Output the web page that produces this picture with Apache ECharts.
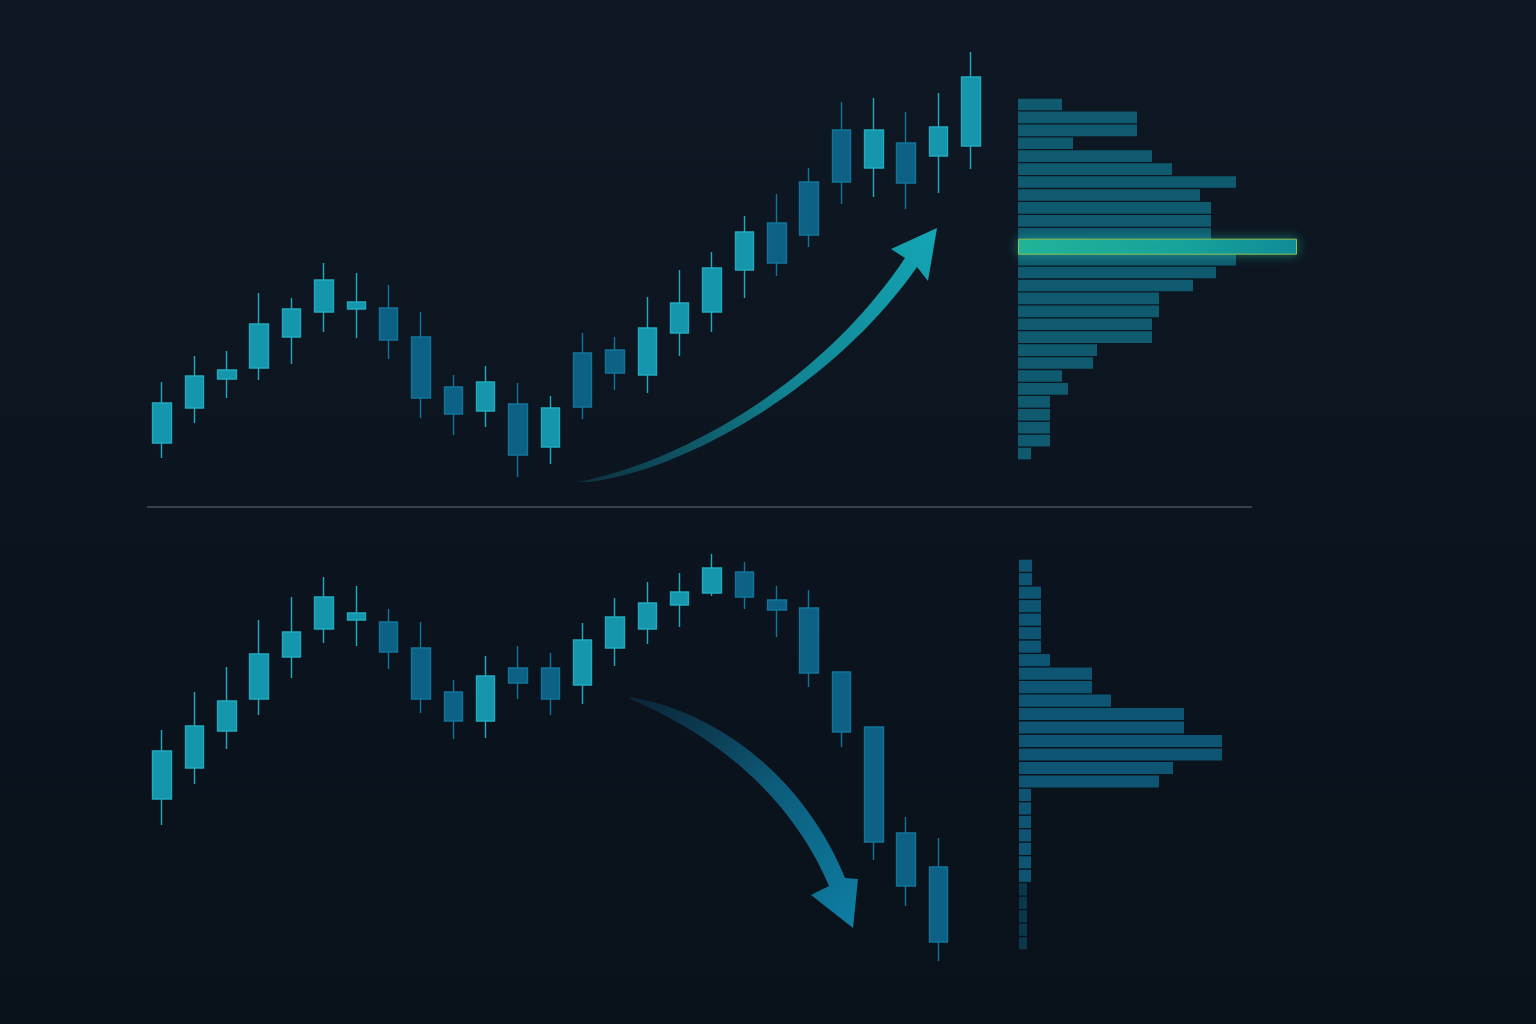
<!DOCTYPE html>
<html>
<head>
<meta charset="utf-8">
<script src="https://cdn.jsdelivr.net/npm/echarts@6/dist/echarts.min.js"></script>
<style>
html,body{margin:0;padding:0;background:#0c1520;}
#chart{width:1536px;height:1024px;}
</style>
</head>
<body>
<div id="chart"></div>
<script>
// Categories (sessions) shared by both panels
const sessions = Array.from({length: 26}, (_, i) => 'S' + (i + 1));

// Top panel candles: [open, close, low, high]
const topCandles = [
  [37,77,22,98],[72,104,57,124],[101,110,82,129],[112,156,100,187],[143,171,116,182],
  [168,200,148,217],[171,178,142,207],[172,140,121,195],[143,82,62,168],[93,66,45,105],
  [69,98,53,114],[76,25,3,97],[33,72,16,84],[127,73,61,147],[130,107,90,143],
  [105,152,87,183],[147,177,124,210],[168,212,148,228],[210,248,182,264],[257,217,204,286],
  [298,245,233,312],[350,298,276,378],[312,350,283,382],[337,297,271,368],[324,353,287,387],
  [334,403,311,428]
];

// Bottom panel candles: [open, close, low, high]
const bottomCandles = [
  [181,229,155,250],[212,254,196,288],[249,279,231,313],[281,326,265,360],[323,348,302,383],
  [351,383,337,403],[360,367,334,394],[358,328,311,371],[332,281,267,358],[288,259,241,300],
  [259,304,242,324],[312,297,281,334],[312,281,265,327],[295,340,276,357],[332,363,314,382],
  [351,377,336,398],[375,388,353,407],[387,412,384,426],[408,383,371,418],[380,370,343,394],
  [372,307,293,390],[308,248,233,308],[253,138,120,253],[147,94,74,163],[113,38,19,142]
];

// Volume profile rows (top row first)
const topProfile = [44,119,119,55,134,154,218,182,193,193,193,279,218,198,175,141,141,134,134,79,75,44,50,32,32,32,32,13];
const bottomProfile = [13,13,22,22,22,22,22,31,73,73,92,165,165,203,203,154,140,12,12,12,12,12,12,12,8,8,8,8,8];

const topLevels = topProfile.map((_, i) => 'T' + i);
const bottomLevels = bottomProfile.map((_, i) => 'B' + i);

const chart = echarts.init(document.getElementById('chart'));

const candleStyle = {
  color: '#1696ad',
  color0: '#0d6185',
  borderColor: '#20aabf',
  borderColor0: '#12749a',
  borderWidth: 1.4
};

const pocIndex = topProfile.indexOf(Math.max(...topProfile));
const pocData = topProfile.map((v, i) => i === pocIndex ? v : '-');

const bottomProfileData = bottomProfile.map((v, i) => i >= 24 ? {
  value: v, itemStyle: {opacity: 0.55}
} : v);

const hiddenCat = (data, gridIndex, inverse) => ({
  type: 'category', data: data, gridIndex: gridIndex, inverse: !!inverse,
  show: false, boundaryGap: true
});
const hiddenVal = (gridIndex, max) => ({
  type: 'value', gridIndex: gridIndex, min: 0, max: max, show: false
});

// Decorative arrow outlines built by sampling cubic curves
function cubic(p0, p1, p2, p3, n) {
  const pts = [];
  for (let k = 0; k <= n; k++) {
    const t = k / n, u = 1 - t;
    pts.push([
      u*u*u*p0[0] + 3*u*u*t*p1[0] + 3*u*t*t*p2[0] + t*t*t*p3[0],
      u*u*u*p0[1] + 3*u*u*t*p1[1] + 3*u*t*t*p2[1] + t*t*t*p3[1]
    ]);
  }
  return pts;
}
const upArrow = [].concat(
  cubic([578,482],[680,462],[820,385],[905,258], 40),
  [[891,249],[937,228],[928,281]],
  cubic([917,267],[840,378],[695,468],[590,482], 40)
);
const downArrow = [].concat(
  cubic([630,697],[720,712],[805,780],[845,878], 40),
  [[858,879],[853,928],[811,895]],
  cubic([829,886],[790,795],[715,735],[630,699], 40)
);

chart.setOption({
  animation: false,
  backgroundColor: new echarts.graphic.LinearGradient(0, 0, 0, 1, [
    {offset: 0, color: '#0e1824'},
    {offset: 1, color: '#09111a'}
  ]),
  grid: [
    {left: 146, top: 40, width: 841, height: 440},
    {left: 146, top: 540, width: 841, height: 440},
    {left: 1018, top: 98, width: 280, height: 362},
    {left: 1019, top: 559, width: 280, height: 391},
    {left: 1018, top: 98, width: 280, height: 362}
  ],
  xAxis: [
    hiddenCat(sessions, 0),
    hiddenCat(sessions, 1),
    hiddenVal(2, 280),
    hiddenVal(3, 280),
    hiddenVal(4, 280)
  ],
  yAxis: [
    hiddenVal(0, 440),
    hiddenVal(1, 440),
    hiddenCat(topLevels, 2, true),
    hiddenCat(bottomLevels, 3, true),
    hiddenCat(topLevels, 4, true)
  ],
  series: [
    {
      type: 'bar', xAxisIndex: 2, yAxisIndex: 2,
      data: topProfile, barCategoryGap: '10%',
      itemStyle: {color: '#0f5a6f'}
    },
    {
      type: 'bar', xAxisIndex: 4, yAxisIndex: 4,
      data: pocData, barWidth: 16,
      itemStyle: {
        color: new echarts.graphic.LinearGradient(0, 0, 1, 0, [
          {offset: 0, color: '#22b39a'},
          {offset: 0.6, color: '#17a19b'},
          {offset: 1, color: '#0f8a98'}
        ]),
        borderColor: '#8fbf4e',
        borderWidth: 1,
        shadowColor: 'rgba(40,200,170,0.5)',
        shadowBlur: 12
      }
    },
    {
      type: 'bar', xAxisIndex: 3, yAxisIndex: 3,
      data: bottomProfileData, barCategoryGap: '10%',
      itemStyle: {color: '#0d5572'}
    },
    {
      type: 'candlestick', xAxisIndex: 0, yAxisIndex: 0,
      data: topCandles, barWidth: 19, itemStyle: candleStyle
    },
    {
      type: 'candlestick', xAxisIndex: 1, yAxisIndex: 1,
      data: bottomCandles, barWidth: 19, itemStyle: candleStyle
    }
  ],
  graphic: [
    {
      type: 'line', silent: true,
      shape: {x1: 147, y1: 507, x2: 1252, y2: 507},
      style: {stroke: '#37424e', lineWidth: 2}
    },
    {
      type: 'polygon', silent: true,
      shape: {points: upArrow},
      style: {
        fill: new echarts.graphic.LinearGradient(0, 1, 1, 0, [
          {offset: 0, color: 'rgba(16,130,150,0.25)'},
          {offset: 0.5, color: 'rgba(18,150,165,0.85)'},
          {offset: 1, color: '#14a6b5'}
        ])
      }
    },
    {
      type: 'polygon', silent: true,
      shape: {points: downArrow},
      style: {
        fill: new echarts.graphic.LinearGradient(0, 0, 1, 1, [
          {offset: 0, color: 'rgba(14,80,115,0.3)'},
          {offset: 0.5, color: 'rgba(14,110,145,0.8)'},
          {offset: 1, color: '#0e80a6'}
        ])
      }
    }
  ]
});
</script>
</body>
</html>
